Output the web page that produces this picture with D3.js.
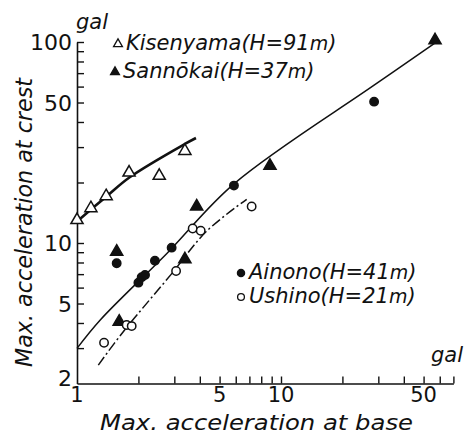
<!DOCTYPE html>
<html>
<head>
<meta charset="utf-8">
<script src="https://cdn.jsdelivr.net/npm/d3@7"></script>
<style>
  html, body { margin: 0; padding: 0; background: #fff; }
  svg { display: block; }
  text { font-family: "DejaVu Sans", sans-serif; fill: #111; }
</style>
</head>
<body>
<script>
// Peak accelerations recorded at base and crest of four dams (gal)
const kisenyamaX = [1.0, 1.17, 1.39, 1.80, 2.53, 3.38];
const kisenyamaY = [13.0, 14.9, 17.1, 22.4, 21.6, 28.7];

const sannokaiX = [1.565, 1.61, 3.38, 3.86, 8.83, 56.9];
const sannokaiY = [9.05, 4.06, 8.3, 15.2, 24.2, 102];

const ainonoX = [1.565, 2.0, 2.075, 2.155, 2.41, 2.91, 5.88, 28.6];
const ainonoY = [7.93, 6.35, 6.75, 6.93, 8.17, 9.48, 19.3, 50.5];

const ushinoX = [1.357, 1.752, 1.854, 3.06, 3.69, 4.04, 7.18];
const ushinoY = [3.19, 3.91, 3.86, 7.26, 11.8, 11.5, 15.2];

// Fitted trend curves
const kisenyamaFitX = [1.0, 1.39, 1.82, 3.38, 3.83];
const kisenyamaFitY = [12.8, 17.0, 21.3, 31.1, 33.3];

const ainonoFitX = [1.0, 1.3, 2.75, 5.88, 28.6, 57];
const ainonoFitY = [2.99, 4.14, 8.85, 19.7, 61, 99];

const ushinoFitX = [1.272, 1.686, 2.9, 4.3, 6.79];
const ushinoFitY = [2.47, 3.62, 7.0, 11.4, 16.5];

// Axis ticks
const xTicks = [2, 3, 4, 5, 6, 7, 8, 9, 10, 20, 30, 40, 50, 60, 70];
const xLabels = [1, 5, 10, 50];
const yTicks = [3, 4, 5, 6, 7, 8, 9, 10, 20, 30, 40, 50, 60, 70, 80, 90, 100];
const yLabels = [2, 5, 10, 50, 100];

const W = 468, H = 437;
const svg = d3.select("body").append("svg").attr("width", W).attr("height", H);
svg.append("rect").attr("width", W).attr("height", H).attr("fill", "#fff");

const x = d3.scaleLog().domain([1, 70]).range([77, 77 + 204 * Math.log10(70)]);
const y = d3.scaleLog().domain([2, 100]).range([383.5, 42]);

const zip = (xs, ys) => xs.map((v, i) => [v, ys[i]]);

// Axes: ticks point into the plot
const xAxis = d3.axisBottom(x).tickValues(xTicks).tickSizeInner(-7).tickSizeOuter(0)
  .tickFormat(() => "");
const gx = svg.append("g").attr("transform", `translate(0,${y(2)})`).call(xAxis);
gx.select(".domain").attr("stroke", "#111").attr("stroke-width", 1.6);
gx.selectAll(".tick line").attr("stroke", "#111").attr("stroke-width", 1.4);

const yAxis = d3.axisLeft(y).tickValues(yTicks).tickSizeInner(-7).tickSizeOuter(0)
  .tickFormat(() => "");
const gy = svg.append("g").attr("transform", `translate(${x(1)},0)`).call(yAxis);
gy.select(".domain").attr("stroke", "#111").attr("stroke-width", 1.6);
gy.selectAll(".tick line").attr("stroke", "#111").attr("stroke-width", 1.4);

// Tick labels
svg.append("g").selectAll("text").data(xLabels).join("text")
  .attr("x", d => x(d)).attr("y", 402)
  .attr("text-anchor", "middle").attr("font-size", 21)
  .text(d => d);

svg.append("g").selectAll("text").data(yLabels).join("text")
  .attr("x", 72).attr("y", d => y(d) + (d === 2 ? 2 : 8))
  .attr("text-anchor", "end").attr("font-size", 22)
  .text(d => d);

// Unit labels
svg.append("text").attr("x", 76).attr("y", 29).attr("font-size", 21)
  .attr("font-style", "italic").text("gal");
svg.append("text").attr("x", 431).attr("y", 362).attr("font-size", 21)
  .attr("font-style", "italic").text("gal");

// Axis titles
svg.append("text").attr("x", 100).attr("y", 430).attr("font-size", 21)
  .attr("font-style", "italic")
  .attr("textLength", 313).attr("lengthAdjust", "spacingAndGlyphs")
  .text("Max. acceleration at base");
svg.append("text")
  .attr("transform", "translate(32,367) rotate(-90)")
  .attr("font-size", 23).attr("font-style", "italic")
  .attr("textLength", 289).attr("lengthAdjust", "spacingAndGlyphs")
  .text("Max. acceleration at crest");

// Trend curves
const line = d3.line().x(d => x(d[0])).y(d => y(d[1])).curve(d3.curveCatmullRom.alpha(0.5));

svg.append("path").datum(zip(kisenyamaFitX, kisenyamaFitY))
  .attr("d", line).attr("fill", "none").attr("stroke", "#111").attr("stroke-width", 2.6);
svg.append("path").datum(zip(ainonoFitX, ainonoFitY))
  .attr("d", line).attr("fill", "none").attr("stroke", "#111").attr("stroke-width", 1.5);
svg.append("path").datum(zip(ushinoFitX, ushinoFitY))
  .attr("d", line).attr("fill", "none").attr("stroke", "#111").attr("stroke-width", 1.5)
  .attr("stroke-dasharray", "10,3,2,3");

// Markers
const tri = d3.symbol().type(d3.symbolTriangle);
function triangles(xs, ys, filled, size) {
  svg.append("g").selectAll("path").data(zip(xs, ys)).join("path")
    .attr("transform", d => `translate(${x(d[0])},${y(d[1])})`)
    .attr("d", tri.size(size))
    .attr("fill", filled ? "#111" : "#fff")
    .attr("stroke", "#111").attr("stroke-width", 1.5);
}
function circles(xs, ys, filled, r) {
  svg.append("g").selectAll("circle").data(zip(xs, ys)).join("circle")
    .attr("cx", d => x(d[0])).attr("cy", d => y(d[1])).attr("r", r)
    .attr("fill", filled ? "#111" : "#fff")
    .attr("stroke", "#111").attr("stroke-width", 1.5);
}
triangles(kisenyamaX, kisenyamaY, false, 64);
triangles(sannokaiX, sannokaiY, true, 64);
circles(ainonoX, ainonoY, true, 4.2);
circles(ushinoX, ushinoY, false, 4.2);

// Legends
const legend = svg.append("g");
function legendEntry(lx, ly, name, h, marker) {
  marker(lx, ly);
  const t = legend.append("text").attr("x", lx + 8).attr("y", ly + 6)
    .attr("font-size", 21).attr("font-style", "italic");
  t.append("tspan").text(name + "(H=" + h);
  t.append("tspan").attr("font-size", 19).text("m");
  t.append("tspan").text(")");
}
const legTri = filled => (lx, ly) => legend.append("path")
  .attr("transform", `translate(${lx},${ly})`).attr("d", tri.size(34))
  .attr("fill", filled ? "#111" : "#fff").attr("stroke", "#111").attr("stroke-width", 1.3);
const legCirc = filled => (lx, ly) => legend.append("circle")
  .attr("cx", lx).attr("cy", ly).attr("r", filled ? 3.6 : 3.4)
  .attr("fill", filled ? "#111" : "#fff").attr("stroke", "#111").attr("stroke-width", 1.3);

legendEntry(118, 44, "Kisenyama", "91", legTri(false));
legendEntry(115, 72, "Sannōkai", "37", legTri(true));
legendEntry(241, 273, "Ainono", "41", legCirc(true));
legendEntry(241, 297, "Ushino", "21", legCirc(false));
</script>
</body>
</html>
